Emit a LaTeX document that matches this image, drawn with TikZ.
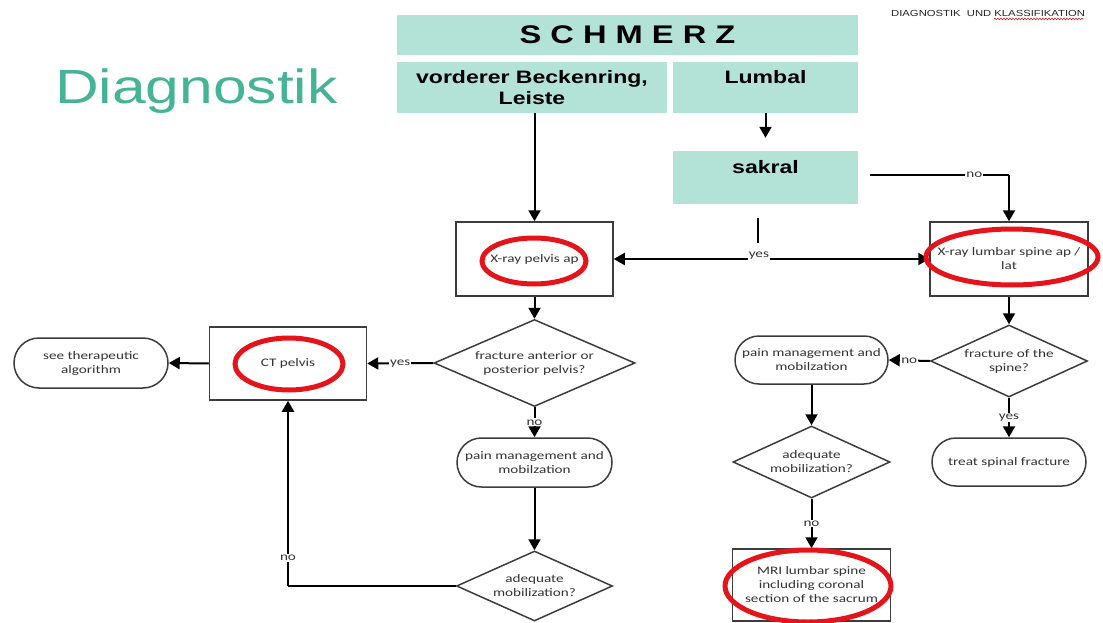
\documentclass[tikz,border=0pt]{standalone}
\usepackage{fontspec}
\usetikzlibrary{shapes.geometric,shapes.misc,arrows.meta,decorations.pathmorphing,calc}
\newfontfamily\calfont[FakeStretch=1.32]{Carlito}
\newfontfamily\arialx[FakeStretch=1.28]{Liberation Sans}
\newfontfamily\titlefam[FakeStretch=1.26]{Liberation Sans}
\definecolor{boxfill}{HTML}{B3E2D7}
\definecolor{titleteal}{HTML}{45B496}
\definecolor{ringred}{HTML}{E5141B}
\definecolor{edgegray}{HTML}{3C3C3C}
\definecolor{txtgray}{HTML}{333333}
\tikzset{
  headbox/.style={rectangle, fill=boxfill, draw=none, inner sep=0pt, align=center,
    font=\arialx\bfseries\fontsize{18}{21}\selectfont},
  stepbox/.style={rectangle, draw=edgegray, line width=1.5pt, inner sep=2pt, align=center,
    text=txtgray, font=\calfont\fontsize{11.5}{14}\selectfont},
  termbox/.style={rounded rectangle, draw=edgegray, line width=1.5pt, inner sep=2pt, align=center,
    text=txtgray, font=\calfont\fontsize{11.5}{14}\selectfont},
  decbox/.style={diamond, draw=edgegray, line width=1.5pt, inner sep=0pt, align=center,
    text=txtgray, font=\calfont\fontsize{11.5}{14}\selectfont},
  conn/.style={line width=2pt, -{Triangle[length=11pt,width=12pt]}},
  bothconn/.style={line width=2pt, {Triangle[length=11pt,width=12pt]}-{Triangle[length=11pt,width=12pt]}},
  plainline/.style={line width=2pt},
  lbl/.style={fill=white, inner sep=1pt, text=txtgray, font=\calfont\fontsize{11.5}{14}\selectfont},
  ring/.style={ellipse, draw=ringred, line width=5pt, inner sep=0pt},
}
\begin{document}
\begin{tikzpicture}[x=1pt,y=-1pt]
\useasboundingbox[fill=white] (0,0) rectangle (1103,623);

% titles
\node[anchor=base west, inner sep=0pt, text=titleteal, font=\titlefam\fontsize{48}{56}\selectfont] (title) at (55,104) {Diagnostik};
\node[anchor=west, inner sep=0pt, text=black!85, font=\arialx\fontsize{8.8}{10}\selectfont] (hdr) at (891,13) {DIAGNOSTIK\ \ UND KLASSIFIKATION};
\draw[ringred, line width=0.6pt, decorate, decoration={snake, amplitude=0.8pt, segment length=3pt}] (994,19) -- (1083,19);

% header boxes
\node[headbox, minimum width=461pt, minimum height=40pt, font=\arialx\bfseries\fontsize{25.5}{30}\selectfont] (schmerz) at (627.5,35) {S C H M E R Z};
\node[headbox, minimum width=270pt, minimum height=51pt] (vord) at (532,87.5) {vorderer Beckenring,\\Leiste};
\node[headbox, minimum width=185pt, minimum height=51pt] (lumbal) at (765.5,87.5) {Lumbal\\\mbox{}};
\node[headbox, minimum width=185pt, minimum height=53pt] (sakral) at (765.5,177.5) {sakral\\\mbox{}};

% flow nodes
\node[stepbox, minimum width=157pt, minimum height=74pt] (xpelvis) at (534.5,259) {X-ray pelvis ap};
\node[stepbox, minimum width=158pt, minimum height=74pt] (xlumbar) at (1009,259) {X-ray lumbar spine ap /\\lat};
\node[decbox, aspect=2.31, minimum width=201pt, minimum height=87pt] (fpelvis) at (534.5,363) {fracture anterior or\\posterior pelvis?};
\node[stepbox, minimum width=157pt, minimum height=73pt] (ct) at (288,363.5) {CT pelvis};
\node[termbox, minimum width=158pt, minimum height=50pt] (see) at (91,363) {see therapeutic\\algorithm};
\node[termbox, minimum width=159pt, minimum height=49pt] (pain1) at (534.5,462.5) {pain management and\\mobilzation};
\node[decbox, aspect=2.23, minimum width=156pt, minimum height=70pt] (adeq1) at (534.5,586) {adequate\\mobilization?};
\node[decbox, aspect=2.18, minimum width=157pt, minimum height=72pt] (fspine) at (1009,361) {fracture of the\\spine?};
\node[termbox, minimum width=157pt, minimum height=48pt] (pain2) at (811.5,360) {pain management and\\mobilzation};
\node[decbox, aspect=2.18, minimum width=157pt, minimum height=72pt] (adeq2) at (811.5,462) {adequate\\mobilization?};
\node[termbox, minimum width=158pt, minimum height=48pt] (treat) at (1009,462) {treat spinal fracture};
\node[stepbox, minimum width=158pt, minimum height=72pt] (mri) at (811.5,585) {MRI lumbar spine\\including coronal\\section of the sacrum};

% connectors
\draw[conn] (xpelvis.north |- vord.south) -- (xpelvis.north);
\draw[conn] (lumbal.south) -- ($(sakral.north)+(0,-13)$);
\coordinate (nostart) at ($(sakral.east)+(12,-2.5)$);
\coordinate (nocorner) at (xlumbar.north |- nostart);
\draw[line width=1.3pt] (nostart) -- node[lbl, pos=0.75] (lno1) {no} (nocorner);
\draw[conn] (nocorner) -- (xlumbar.north);
\coordinate (stubtop) at (758,218);
\coordinate (stubbot) at (758,243);
\draw[plainline] (stubtop) -- (stubbot);
\draw[bothconn] (xpelvis.east) -- node[lbl, pos=0.46, yshift=3pt] (lyes1) {yes} (xlumbar.west);
\draw[conn] (xlumbar.south) -- (fspine.north);
\draw[conn] (fspine.west) -- node[lbl] (lno2) {no} (pain2.east);
\draw[conn] (pain2.south) -- (adeq2.north);
\draw[conn] (adeq2.south) -- node[lbl] (lno3) {no} (mri.north);
\draw[conn] (fspine.south) -- node[lbl] (lyes2) {yes} (treat.north);
\draw[conn] (xpelvis.south) -- (fpelvis.north);
\draw[conn] (fpelvis.west) -- node[lbl] (lyes3) {yes} (ct.east);
\draw[conn] (ct.west) -- (see.east);
\draw[conn] (fpelvis.south) -- node[lbl] (lno4) {no} (pain1.north);
\draw[conn] (pain1.south) -- (adeq1.north);
\coordinate (backcorner) at (ct.south |- adeq1.west);
\draw[plainline] (adeq1.west) -- (backcorner);
\draw[conn] (backcorner) -- node[lbl, pos=0.15] (lno5) {no} (ct.south);

% red rings
\node[ring, minimum width=104pt, minimum height=46pt] (ring1) at (534,261) {};
\node[ring, minimum width=172pt, minimum height=56pt] (ring2) at (1012,257) {};
\node[ring, minimum width=108pt, minimum height=52pt] (ring3) at (289,364) {};
\node[ring, minimum width=166pt, minimum height=72pt] (ring4) at (808,586) {};
\end{tikzpicture}
\end{document}
